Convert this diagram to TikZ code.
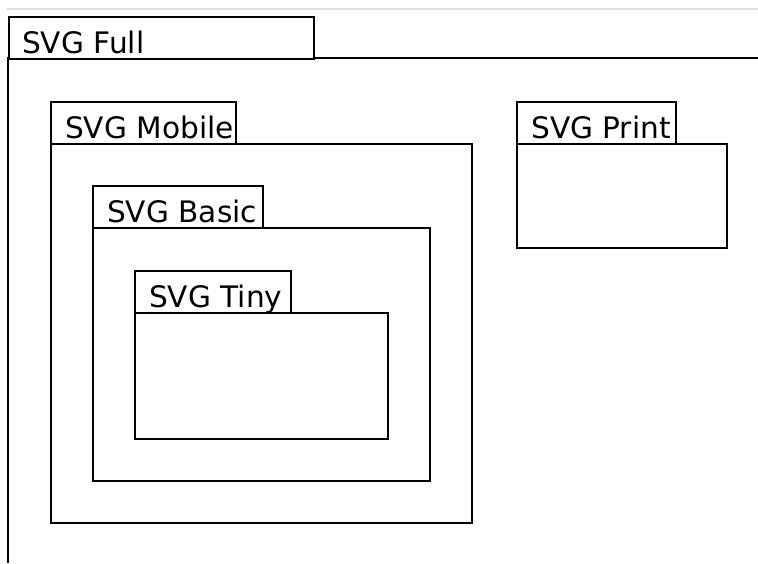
\documentclass[tikz,border=0pt]{standalone}
\usepackage{fontspec}
\setmainfont{DejaVu Sans}
\begin{document}
\begin{tikzpicture}[x=1pt,y=-1pt,
  box/.style={draw=black,line width=2pt,fill=white,inner sep=0pt,anchor=north west},
  lbl/.style={anchor=base west,inner sep=0pt,font=\fontsize{29.6}{35}\selectfont}]
\useasboundingbox[fill=white] (0,0) rectangle (758,563);
% faint top border
\draw[gray!25,line width=2pt] (7,9) -- (758,9);
% SVG Full
\coordinate (fullTL) at (8,58);
\coordinate (fullTR) at (758,58);
\coordinate (fullBL) at (8,563);
\draw[line width=2pt] (fullTR) -- (fullTL) -- (fullBL);
\node[box,minimum width=305pt,minimum height=42pt] (fulltab) at (8,16) {};
\node[lbl] (fulltxt) at (22,53) {SVG Full};
% SVG Mobile
\node[box,minimum width=421pt,minimum height=379pt] (mobbody) at (50,143) {};
\node[box,minimum width=185pt,minimum height=42pt] (mobtab) at (50,101) {};
\node[lbl] (mobtxt) at (65,138) {SVG Mobile};
% SVG Basic
\node[box,minimum width=337pt,minimum height=253pt] (basbody) at (92,227) {};
\node[box,minimum width=170pt,minimum height=42pt] (bastab) at (92,185) {};
\node[lbl] (bastxt) at (107,222) {SVG Basic};
% SVG Tiny
\node[box,minimum width=253pt,minimum height=126pt] (tinybody) at (134,312) {};
\node[box,minimum width=156pt,minimum height=42pt] (tinytab) at (134,270) {};
\node[lbl] (tinytxt) at (149,307) {SVG Tiny};
% SVG Print
\node[box,minimum width=210pt,minimum height=104pt] (prbody) at (516,143) {};
\node[box,minimum width=159pt,minimum height=42pt] (prtab) at (516,101) {};
\node[lbl] (prtxt) at (531,138) {SVG Print};
\end{tikzpicture}
\end{document}
